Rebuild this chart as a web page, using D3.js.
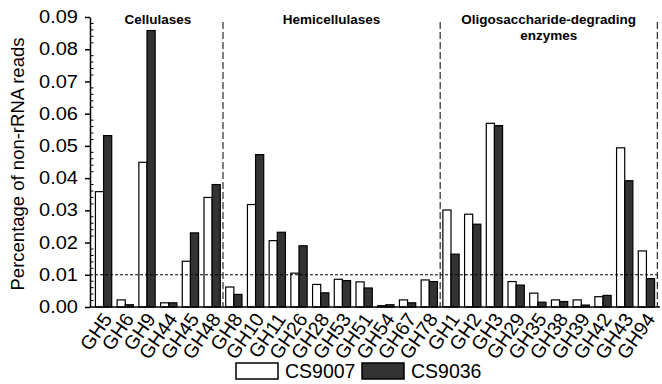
<!DOCTYPE html>
<html>
<head>
<meta charset="utf-8">
<script src="https://cdn.jsdelivr.net/npm/d3@7"></script>
<style>
  body { margin: 0; background: #fff; }
  svg { font-family: "Liberation Sans", Arial, sans-serif; }
</style>
</head>
<body>
<div id="chart"></div>
<script>
// data
const categories = ['GH5','GH6','GH9','GH44','GH45','GH48',
  'GH8','GH10','GH11','GH26','GH28','GH53','GH51','GH54','GH67','GH78',
  'GH1','GH2','GH3','GH29','GH35','GH38','GH39','GH42','GH43','GH94'];
const cs9007 = [0.0358,0.0022,0.0449,0.0013,0.0142,0.0340,
  0.0062,0.0318,0.0206,0.0105,0.0070,0.0086,0.0078,0.0004,0.0022,0.0084,
  0.0301,0.0288,0.0570,0.0079,0.0043,0.0022,0.0022,0.0032,0.0494,0.0174];
const cs9036 = [0.0532,0.0007,0.0858,0.0013,0.0230,0.0380,
  0.0039,0.0473,0.0232,0.0190,0.0044,0.0082,0.0059,0.0007,0.0013,0.0079,
  0.0164,0.0257,0.0563,0.0068,0.0015,0.0017,0.0006,0.0036,0.0392,0.0088];
const seriesNames = ['CS9007', 'CS9036'];
const seriesColors = ['#ffffff', '#333333'];
const groupNames = [['Cellulases'], ['Hemicellulases'], ['Oligosaccharide-degrading', 'enzymes']];
const groupStarts = ['GH5', 'GH8', 'GH1'];
const groupEnds = ['GH48', 'GH78', 'GH94'];
const yTicks = [0, 0.01, 0.02, 0.03, 0.04, 0.05, 0.06, 0.07, 0.08, 0.09];
const threshold = 0.01;

const W = 662, H = 384;
const mLeft = 90, mRight = 660, mTop = 17, mBottom = 307;

const svg = d3.select('#chart').append('svg')
  .attr('width', W).attr('height', H);

const x = d3.scaleBand().domain(categories).range([mLeft, mRight])
  .paddingInner(0.25).paddingOuter(0.25);
const xs = d3.scaleBand().domain(seriesNames).range([0, x.bandwidth()]);
const y = d3.scaleLinear().domain([0, 0.09]).range([mBottom, mTop]);

// bars
const rows = categories.map((c, i) => ({ cat: c, vals: [cs9007[i], cs9036[i]] }));
svg.append('g').selectAll('g').data(rows).join('g')
  .attr('transform', d => `translate(${x(d.cat)},0)`)
  .selectAll('rect').data(d => d.vals.map((v, j) => ({ v, j })))
  .join('rect')
  .attr('x', d => xs(seriesNames[d.j]))
  .attr('y', d => y(d.v))
  .attr('width', xs.bandwidth())
  .attr('height', d => mBottom - y(d.v))
  .attr('fill', d => seriesColors[d.j])
  .attr('stroke', '#000')
  .attr('stroke-width', 1.2);

// threshold line
svg.append('line')
  .attr('x1', mLeft).attr('x2', mRight)
  .attr('y1', y(threshold)).attr('y2', y(threshold))
  .attr('stroke', '#000').attr('stroke-width', 1)
  .attr('stroke-dasharray', '3,2');

// group separators
const step = x.step();
groupEnds.forEach(g => {
  const sx = x(g) + x.bandwidth() + step * x.paddingInner() / 2;
  svg.append('line')
    .attr('x1', sx).attr('x2', sx)
    .attr('y1', 22).attr('y2', mBottom)
    .attr('stroke', '#000').attr('stroke-width', 1)
    .attr('stroke-dasharray', '7,3');
});

// group titles
groupNames.forEach((lines, i) => {
  const x0 = x(groupStarts[i]), x1 = x(groupEnds[i]) + x.bandwidth();
  const t = svg.append('text')
    .attr('x', (x0 + x1) / 2)
    .attr('y', 24)
    .attr('text-anchor', 'middle')
    .attr('font-size', 13.5)
    .attr('font-weight', 'bold');
  lines.forEach((s, k) => {
    t.append('tspan').attr('x', (x0 + x1) / 2).attr('dy', k ? 16 : 0).text(s);
  });
});

// y axis
const yAxis = svg.append('g').attr('transform', `translate(${mLeft},0)`)
  .call(d3.axisLeft(y).tickValues(yTicks).tickFormat(d3.format('.2f'))
    .tickSize(5).tickSizeOuter(0).tickPadding(7));
yAxis.selectAll('text').attr('font-size', 17.5).attr('fill', '#000')
  .attr('font-family', '"Liberation Sans", Arial, sans-serif')
  .attr('textLength', 39).attr('lengthAdjust', 'spacingAndGlyphs');
yAxis.selectAll('line, path').attr('stroke', '#000').attr('stroke-width', 1.5);

// minor ticks
const minor = d3.range(0, 0.0901, 0.002).filter(v => Math.abs(v * 100 - Math.round(v * 100)) > 1e-6);
svg.append('g').selectAll('line').data(minor).join('line')
  .attr('x1', mLeft).attr('x2', mLeft + 3.5)
  .attr('y1', d => y(d)).attr('y2', d => y(d))
  .attr('stroke', '#000').attr('stroke-width', 1);

// x axis
const xAxis = svg.append('g').attr('transform', `translate(0,${mBottom})`)
  .call(d3.axisBottom(x).tickSize(0).tickSizeOuter(0));
xAxis.select('path').attr('stroke', '#000').attr('stroke-width', 1.5)
  .attr('d', `M${mLeft},0H${mRight}`);
xAxis.selectAll('text')
  .attr('font-size', 19.5).attr('fill', '#000')
  .attr('font-family', '"Liberation Sans", Arial, sans-serif')
  .attr('text-anchor', 'end')
  .attr('dx', 0).attr('dy', '0.72em')
  .attr('transform', 'translate(-2,4) rotate(-55)')
  .attr('y', 0).attr('x', 0);

// y title
svg.append('text')
  .attr('transform', `translate(24,${(mTop + mBottom) / 2 + 2}) rotate(-90)`)
  .attr('text-anchor', 'middle')
  .attr('font-size', 18.5)
  .text('Percentage of non-rRNA reads');

// legend
const legend = svg.append('g').attr('transform', 'translate(236,363)');
const lx = [0, 126];
seriesNames.forEach((s, i) => {
  legend.append('rect')
    .attr('x', lx[i]).attr('y', 0)
    .attr('width', 42).attr('height', 16)
    .attr('fill', seriesColors[i]).attr('stroke', '#000').attr('stroke-width', 1.5);
  legend.append('text')
    .attr('x', lx[i] + 49).attr('y', 15)
    .attr('font-size', 19.5)
    .text(s);
});
</script>
</body>
</html>
